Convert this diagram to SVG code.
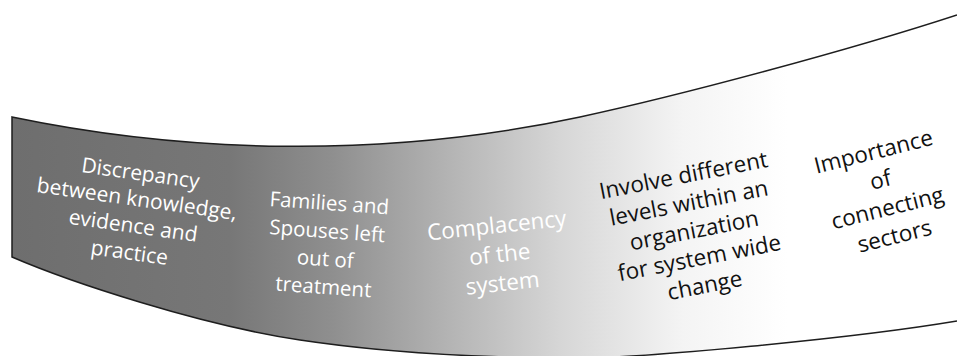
<svg xmlns="http://www.w3.org/2000/svg" width="957" height="356" viewBox="0 0 957 356">
<defs>
<linearGradient id="band" gradientUnits="userSpaceOnUse" x1="12" y1="0" x2="957" y2="0">
<stop offset="0" stop-color="#6e6e6e"/>
<stop offset="0.23" stop-color="#777777"/>
<stop offset="0.34" stop-color="#8f8f8f"/>
<stop offset="0.46" stop-color="#b3b3b3"/>
<stop offset="0.58" stop-color="#d6d6d6"/>
<stop offset="0.71" stop-color="#f4f4f4"/>
<stop offset="0.82" stop-color="#ffffff"/>
</linearGradient>
<style>
.lbl{font-family:"Open Sans","Noto Sans","Liberation Sans",sans-serif;text-anchor:middle}
.w{fill:#ffffff}
.k{fill:#111111}
.edge{fill:none;stroke:#1e1e1e;stroke-width:1.5}
</style>
</defs>
<g id="band-shape">
<path d="M12,117 C180,152 380,160 580,117 C680,95.5 850,50 957,15 L957,321 C850,339 640,358 580,358 C500,358 400,355 300,340 C200,325 70,282 12,257 Z" fill="url(#band)"/>
<path class="edge" d="M957,15 C850,50 680,95.5 580,117 C380,160 180,152 12,117 L12,257 C70,282 200,325 300,340 C400,355 500,358 580,358 C640,358 850,339 957,321"/>
</g>
<g id="node1" transform="rotate(8 135 213)" font-size="21">
<text class="lbl w" x="135" y="180">Discrepancy</text>
<text class="lbl w" x="135" y="206">between knowledge,</text>
<text class="lbl w" x="135" y="233">evidence and</text>
<text class="lbl w" x="135" y="260">practice</text>
</g>
<g id="node2" transform="rotate(4 325 250)" font-size="20.5">
<text class="lbl w" x="326" y="210">Families and</text>
<text class="lbl w" x="326" y="238">Spouses left</text>
<text class="lbl w" x="326" y="266">out of</text>
<text class="lbl w" x="326" y="294">treatment</text>
</g>
<g id="node3" transform="rotate(-6 500 258)" font-size="22.5">
<text class="lbl w" x="500" y="233">Complacency</text>
<text class="lbl w" x="500" y="262">of the</text>
<text class="lbl w" x="500" y="291">system</text>
</g>
<g id="node4" transform="rotate(-11 695 235)" font-size="22.5">
<text class="lbl k" x="695" y="182">Involve different</text>
<text class="lbl k" x="695" y="210">levels within an</text>
<text class="lbl k" x="695" y="238">organization</text>
<text class="lbl k" x="695" y="266">for system wide</text>
<text class="lbl k" x="695" y="294">change</text>
</g>
<g id="node5" transform="rotate(-14 885 198)" font-size="22.5">
<text class="lbl k" x="885" y="158">Importance</text>
<text class="lbl k" x="885" y="187">of</text>
<text class="lbl k" x="885" y="216">connecting</text>
<text class="lbl k" x="885" y="245">sectors</text>
</g>
<g id="connectors"></g>
</svg>
